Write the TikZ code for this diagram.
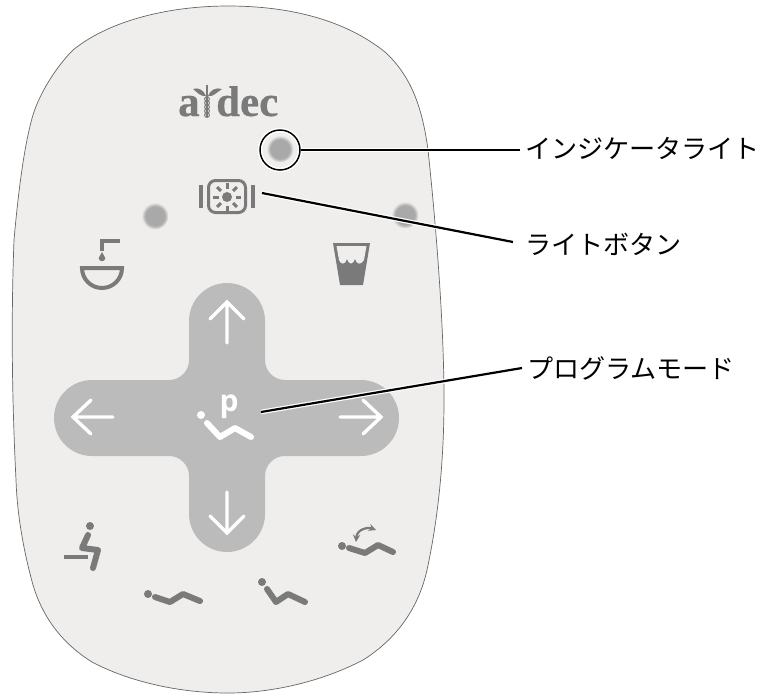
\documentclass[tikz,border=0pt]{standalone}
\usepackage{fontspec}
\usetikzlibrary{positioning}
\newfontfamily\jpfont{Noto Sans CJK JP}
\newfontfamily\logofont{Liberation Serif}[BoldFeatures={FakeBold=0.5}]
\newfontfamily\keyfont{Open Sans}
\definecolor{panelgray}{HTML}{EFEEED}
\definecolor{crossgray}{HTML}{BBBBBB}
\definecolor{icongray}{HTML}{7A7A7A}
\definecolor{ledgray}{HTML}{A9A9A9}
\pgfdeclareradialshading{ledglow}{\pgfpointorigin}{color(0bp)=(ledgray); color(18bp)=(ledgray); color(25bp)=(panelgray); color(50bp)=(panelgray)}

\begin{document}
\begin{tikzpicture}[x=1pt, y=-1pt,
    led/.style = {circle, inner sep=0pt, minimum size=27pt, shade, shading=ledglow},
    callout/.style = {preaction={draw=white, line width=4.6pt}, draw=black, line width=2.2pt},
    calltext/.style = {anchor=west, inner sep=0pt, outer sep=5pt, font=\jpfont\fontsize{26.1}{30}\selectfont},
    arrowline/.style = {draw=white, line width=3.4pt, line cap=round, line join=miter},
    iconline/.style = {draw=icongray, line width=6pt, line cap=round, line join=round},
    icondot/.style = {fill=icongray, draw=none},
    logotext/.style = {anchor=base west, inner sep=0pt, text=icongray, font=\logofont\bfseries\fontsize{43}{43}\selectfont}]
  \useasboundingbox (0,0) rectangle (762,694);
  \fill[white] (0,0) rectangle (762,694);

  \draw[fill=panelgray, draw=black!60, line width=0.7pt] (228,6)
    .. controls (290,6) and (345,20) .. (385,52)
    .. controls (410,75) and (422,105) .. (428,150)
    .. controls (435,215) and (444,320) .. (444,400)
    .. controls (444,450) and (440,510) .. (427,570)
    .. controls (418,610) and (395,640) .. (363,660)
    .. controls (325,680) and (275,693) .. (228,693)
    .. controls (180,693) and (130,682) .. (92,662)
    .. controls (60,642) and (42,615) .. (33,585)
    .. controls (22,545) and (17,510) .. (16,480)
    .. controls (12,400) and (11,320) .. (14,240)
    .. controls (18,195) and (24,145) .. (33,115)
    .. controls (39,95) and (55,68) .. (73,50)
    .. controls (110,20) and (170,6) .. (228,6) -- cycle;

  \node[logotext] (logoa) at (178,116) {a};
  \node[logotext] (logodec) at (216,116) {dec};
  \draw[icongray, line width=1.2pt] (207,85) -- (207,117);
  \fill[icongray] (193,89) .. controls (198,87) and (204,90) .. (206,96) .. controls (201,97) and (198,93) .. cycle;
  \fill[icongray] (222,89) .. controls (216,87) and (210,90) .. (208,96) .. controls (213,97) and (216,93) .. cycle;
  \foreach \cy in {99,103,107,111,115}
    \draw[icongray, line width=1pt] (207,\cy) circle (2.4);

  \node[led] (ledleft) at (155,216) {};
  \node[led] (ledright) at (405,215) {};
  \node[led] (ledtop) at (280,149) {};
  \node[circle, minimum size=40pt, inner sep=0pt, callout, line width=1.5pt] (ring) at (280,150) {};

  \draw[icongray, line width=4pt] (201,185) -- (201,208) (253,185) -- (253,208);
  \node[draw=icongray, line width=3pt, rounded corners=7pt, minimum width=37pt, minimum height=32pt, inner sep=0pt] (lightbtn) at (227,196.5) {};
  \fill[icongray] (227,197) circle (5);
  \foreach \ang in {0,45,...,315}
    \draw[icongray, line width=3pt] (227,197) ++(\ang:8.5) -- ++(\ang:5.5);

  \draw[icongray, line width=4pt, line join=miter] (102,251) -- (102,241) -- (120,241);
  \fill[icongray] (102,252) -- (105.3,258) arc (0:180:3.3) -- cycle;
  \draw[icongray, line width=4pt] (82,268) -- (122,268) arc (0:180:20) -- cycle;

  \fill[icongray] (333,243) -- (370,243) -- (363,285) -- (340,285) -- cycle;
  \fill[panelgray] (336.5,246) -- (366.5,246) -- (364,260)
    .. controls (361,265) and (357,265) .. (355,259)
    .. controls (353,265) and (349,265) .. (347,259)
    .. controls (345,265) and (341,265) .. (339,260) -- cycle;

  \fill[crossgray] (189,321) arc (180:360:38) -- (265,360) arc (180:90:20)
    -- (361,380) arc (270:450:38) -- (285,456) arc (270:180:20)
    -- (265,514) arc (0:180:38) -- (189,476) arc (0:-90:20)
    -- (92,456) arc (90:270:38) -- (169,380) arc (90:0:20) -- cycle;

  \draw[arrowline] (227,343) -- (227,302) (210,319) -- (227,302) -- (244,319);
  \draw[arrowline] (227,492) -- (227,533) (210,516) -- (227,533) -- (244,516);
  \draw[arrowline] (113,417) -- (73,417) (91,400) -- (73,417) -- (91,434);
  \draw[arrowline] (340,417) -- (381,417) (363,400) -- (381,417) -- (363,434);

  \node[anchor=base, inner sep=0pt, text=white, font=\keyfont\bfseries\fontsize{30}{30}\selectfont] (prog) at (229,411) {p};
  \fill[white] (201,415) circle (4);
  \draw[iconline, draw=white] (207,423) -- (220,437) -- (235,428) -- (251,437);

  \fill[icondot] (90,526) circle (4);
  \draw[iconline] (88,535) -- (82,548) -- (98,550) -- (93,568);
  \draw[icongray, line width=3.5pt] (64,557) -- (88,557);

  \fill[icondot] (148,594) circle (4);
  \draw[iconline] (155,597) -- (170,602) -- (183,594) -- (200,601);

  \fill[icondot] (262,582) circle (4);
  \draw[iconline] (267,589) -- (276,602) -- (288,594) -- (305,602);

  \fill[icondot] (342,546) circle (4);
  \draw[iconline] (349,548) -- (365,553) -- (378,545) -- (393,552);
  \draw[icongray, line width=2.2pt, stealth-stealth] (356,542) .. controls (357,529) and (368,527) .. (376,530);

  \node[calltext] (lblled) at (520,148) {インジケータライト};
  \node[calltext] (lbllight) at (520,244) {ライトボタン};
  \node[calltext] (lblprog) at (522,368) {プログラムモード};

  \coordinate (lightend) at (262,193);
  \coordinate (lightlbl) at (513,242);
  \coordinate (progend) at (261,412);

  \draw[callout] (ring.east) -- (ring.east -| lblled.west);
  \draw[callout] (lightend) -- (lightlbl);
  \draw[callout] (progend) -- (lblprog.west);
\end{tikzpicture}
\end{document}
